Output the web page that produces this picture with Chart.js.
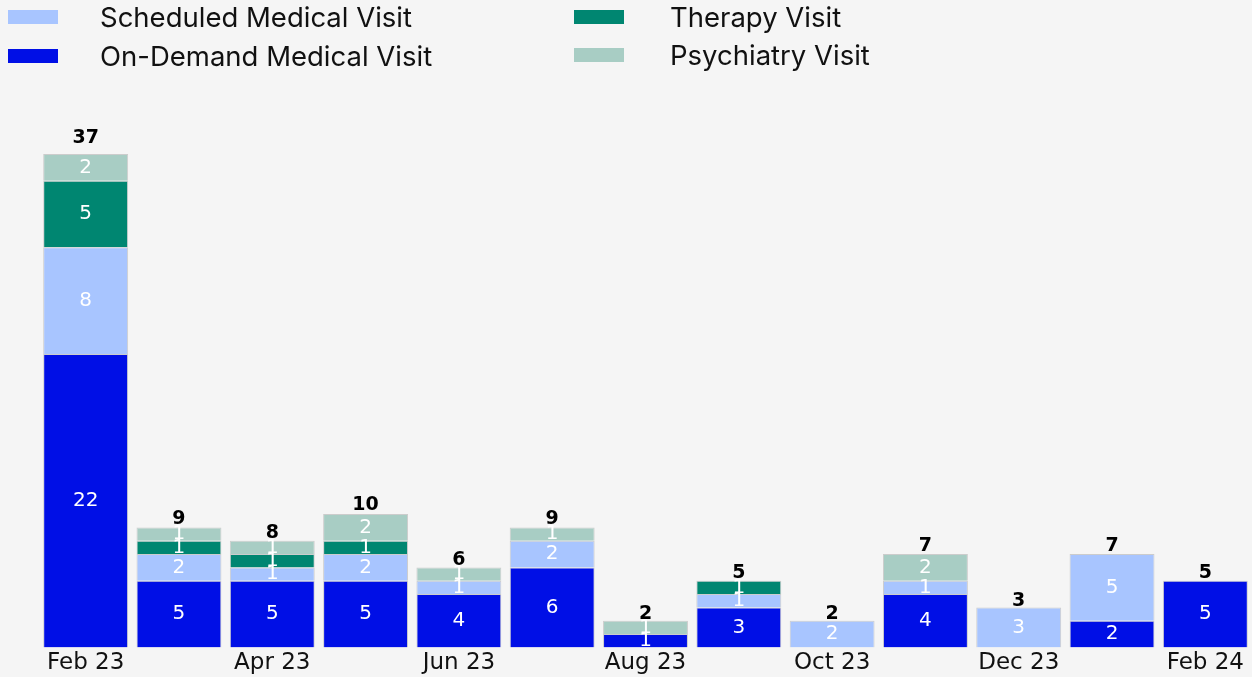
<!DOCTYPE html>
<html>
<head>
<meta charset="utf-8">
<script src="https://cdn.jsdelivr.net/npm/chart.js@4"></script>
<style>
  html, body { margin: 0; padding: 0; background: #f5f5f5; overflow: hidden; }
  #wrap { position: relative; width: 1252px; height: 677px; }
  #chart { position: absolute; left: 0; top: 0; }
  .leg { position: absolute; font-family: Inter, "Noto Sans", sans-serif; font-size: 27.5px; color: #111; line-height: 32px; white-space: nowrap; }
  .sw { position: absolute; width: 50px; height: 14px; }
</style>
</head>
<body>
<div id="wrap">
  <canvas id="chart" width="1252" height="677"></canvas>
  <div id="legend"></div>
</div>
<script>
const months = ['Feb 23', 'Mar 23', 'Apr 23', 'May 23', 'Jun 23', 'Jul 23', 'Aug 23',
   'Sep 23', 'Oct 23', 'Nov 23', 'Dec 23', 'Jan 24', 'Feb 24']
const onDemand   = [22, 5, 5, 5, 4, 6, 1, 3, 0, 4, 0, 2, 5]
const scheduled  = [8, 2, 1, 2, 1, 2, 0, 1, 2, 1, 3, 5, 0]
const therapy    = [5, 1, 1, 1, 0, 0, 0, 1, 0, 0, 0, 0, 0]
const psychiatry = [2, 1, 1, 2, 1, 1, 1, 0, 0, 2, 0, 0, 0]

const colors = {
   onDemand: '#000fe6',
   scheduled: '#a8c5ff',
   therapy: '#008671',
   psychiatry: '#a8cdc4'
}

// legend, two columns like the original
const legendItems = [
   { label: 'Scheduled Medical Visit', color: colors.scheduled, x: 8, y: 10 },
   { label: 'On-Demand Medical Visit', color: colors.onDemand, x: 8, y: 49 },
   { label: 'Therapy Visit', color: colors.therapy, x: 574, y: 10 },
   { label: 'Psychiatry Visit', color: colors.psychiatry, x: 574, y: 48 }
]
const legendE = document.getElementById('legend')
for (const it of legendItems) {
   const sw = document.createElement('div')
   sw.className = 'sw'
   sw.style.left = it.x + 'px'
   sw.style.top = it.y + 'px'
   sw.style.background = it.color
   legendE.appendChild(sw)
   const t = document.createElement('div')
   t.className = 'leg'
   t.textContent = it.label
   t.style.left = (it.x + 92 - (it.x > 100 ? -4 : 0)) + 'px'
   t.style.top = (it.y - 9) + 'px'
   legendE.appendChild(t)
}

const labelPlugin = {
   id: 'segLabels',
   afterDatasetsDraw(chart) {
      const ctx = chart.ctx
      ctx.save()
      ctx.textAlign = 'center'
      ctx.textBaseline = 'middle'
      ctx.font = '20px "DejaVu Sans", sans-serif'
      ctx.fillStyle = '#ffffff'
      chart.data.datasets.forEach((ds, di) => {
         const meta = chart.getDatasetMeta(di)
         meta.data.forEach((bar, i) => {
            const v = ds.data[i]
            if (!v) return
            const mid = (bar.y + bar.base) / 2
            ctx.fillText(String(v), bar.x, mid)
         })
      })
      // totals just above each bar
      ctx.font = 'bold 19px "DejaVu Sans", sans-serif'
      ctx.fillStyle = '#000000'
      ctx.textBaseline = 'alphabetic'
      const yScale = chart.scales.y
      const xScale = chart.scales.x
      months.forEach((m, i) => {
         const total = onDemand[i] + scheduled[i] + therapy[i] + psychiatry[i]
         ctx.fillText(String(total), xScale.getPixelForValue(i), yScale.getPixelForValue(total * 1.02) - 1)
      })
      ctx.restore()
   }
}

const mkSet = (label, data, color) => ({
   label: label,
   data: data,
   backgroundColor: color,
   borderColor: 'rgba(200,200,200,0.9)',
   borderWidth: 1,
   barPercentage: 0.91,
   categoryPercentage: 1.0
})

new Chart(document.getElementById('chart'), {
   type: 'bar',
   data: {
      labels: months,
      datasets: [
         mkSet('On-Demand Medical Visit', onDemand, colors.onDemand),
         mkSet('Scheduled Medical Visit', scheduled, colors.scheduled),
         mkSet('Therapy Visit', therapy, colors.therapy),
         mkSet('Psychiatry Visit', psychiatry, colors.psychiatry)
      ]
   },
   options: {
      responsive: false,
      animation: false,
      layout: { padding: { top: 154, left: 39, right: -6, bottom: -2 } },
      plugins: {
         legend: { display: false },
         tooltip: { enabled: false }
      },
      scales: {
         x: {
            stacked: true,
            grid: { display: false, drawTicks: false },
            border: { display: false },
            ticks: {
               autoSkip: false,
               maxRotation: 0,
               padding: 2,
               color: '#111',
               font: { family: '"DejaVu Sans", sans-serif', size: 23 },
               callback: (v, i) => i % 2 === 0 ? months[i] : ''
            }
         },
         y: {
            stacked: true,
            display: false,
            min: 0,
            max: 37
         }
      }
   },
   plugins: [labelPlugin]
})
</script>
</body>
</html>
